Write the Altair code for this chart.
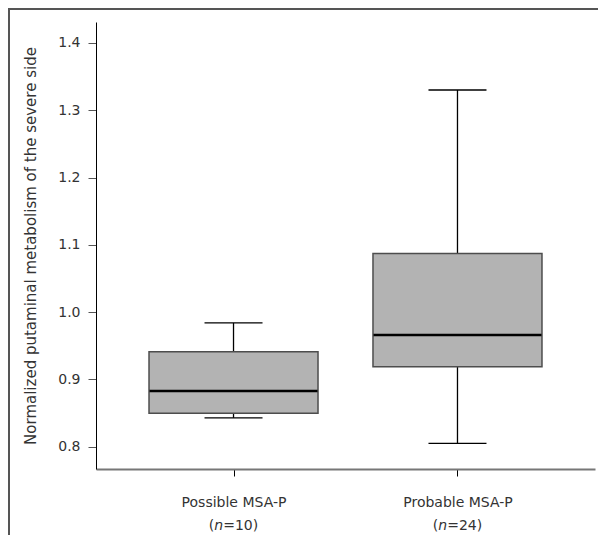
import altair as alt
import pandas as pd

groups = ["Possible MSA-P", "Probable MSA-P"]
n_counts = [10, 24]
whisker_low = [0.843, 0.805]
q1 = [0.850, 0.919]
median = [0.883, 0.966]
q3 = [0.941, 1.087]
whisker_high = [0.984, 1.330]
y_ticks = [0.8, 0.9, 1.0, 1.1, 1.2, 1.3, 1.4]
y_title = "Normalized putaminal metabolism of the severe side"

FONT = "DejaVu Sans"
TXT = "#333333"

df = pd.DataFrame({
    "group": groups,
    "n": n_counts,
    "low": whisker_low,
    "q1": q1,
    "median": median,
    "q3": q3,
    "high": whisker_high,
})
df["n_rest"] = "=" + df["n"].astype(str) + ")"

xscale = alt.Scale(type="point", padding=0.614, domain=groups)
yscale = alt.Scale(domain=[0.767, 1.431], nice=False, zero=False)

x_enc = alt.X("group:N", scale=xscale, sort=groups,
              axis=alt.Axis(title=None, labelAngle=0, domainColor="#777777", domainWidth=2,
                            tickColor="black", tickSize=7, tickWidth=1,
                            labelFont=FONT, labelFontSize=14, labelColor=TXT,
                            labelPadding=19))
y_axis = alt.Axis(values=y_ticks, format=".1f", title=y_title, grid=False,
                  tickSize=8, tickColor="#555555", tickWidth=1,
                  domainColor="black", domainWidth=1,
                  labelFont=FONT, labelFontSize=14, labelColor=TXT, labelPadding=8,
                  titleFont=FONT, titleFontSize=15, titleFontWeight="normal",
                  titleColor=TXT, titlePadding=19)

base = alt.Chart(df)

whisker = base.mark_rule(color="black", strokeWidth=1.3).encode(
    x=x_enc,
    y=alt.Y("low:Q", scale=yscale, axis=y_axis),
    y2="high:Q",
)
box = base.mark_bar(size=169, fill="#b3b3b3", stroke="#4d4d4d", strokeWidth=1.5).encode(
    x=alt.X("group:N", scale=xscale, sort=groups),
    y=alt.Y("q1:Q", scale=yscale),
    y2="q3:Q",
)
med = base.mark_tick(size=168, thickness=2.5, color="black", opacity=1).encode(
    x=alt.X("group:N", scale=xscale, sort=groups),
    y=alt.Y("median:Q", scale=yscale),
)
cap_low = base.mark_tick(size=58, thickness=1.3, color="black", opacity=1).encode(
    x=alt.X("group:N", scale=xscale, sort=groups),
    y=alt.Y("low:Q", scale=yscale),
)
cap_high = base.mark_tick(size=58, thickness=1.3, color="black", opacity=1).encode(
    x=alt.X("group:N", scale=xscale, sort=groups),
    y=alt.Y("high:Q", scale=yscale),
)

text_y = 504
paren = base.mark_text(align="right", baseline="middle", dx=-19.2, font=FONT,
                       fontSize=14, color=TXT).encode(
    x=alt.X("group:N", scale=xscale, sort=groups),
    y=alt.value(text_y),
    text=alt.value("("),
)
n_it = base.mark_text(align="left", baseline="middle", dx=-19.2, font=FONT,
                      fontSize=14, fontStyle="italic", color=TXT).encode(
    x=alt.X("group:N", scale=xscale, sort=groups),
    y=alt.value(text_y),
    text=alt.value("n"),
)
rest = base.mark_text(align="left", baseline="middle", dx=-10.3, font=FONT,
                      fontSize=14, color=TXT).encode(
    x=alt.X("group:N", scale=xscale, sort=groups),
    y=alt.value(text_y),
    text="n_rest:N",
)

dummy = alt.Chart(pd.DataFrame({"k": [0]}))
frame_left = dummy.mark_rule(color="#555555", strokeWidth=2).encode(
    x=alt.value(-87), y=alt.value(-13), y2=alt.value(520))
frame_top = dummy.mark_rule(color="#555555", strokeWidth=2).encode(
    x=alt.value(-88), x2=alt.value(510), y=alt.value(-13))

chart = alt.layer(
    frame_left, frame_top, whisker, box, med, cap_low, cap_high, paren, n_it, rest
).properties(
    width=499, height=447,
    padding={"left": 88, "top": 14, "right": 3, "bottom": 66},
    autosize="none",
    background="white",
).configure_view(stroke=None)

chart.save("out.html", embed_options={"renderer": "svg", "actions": False})
